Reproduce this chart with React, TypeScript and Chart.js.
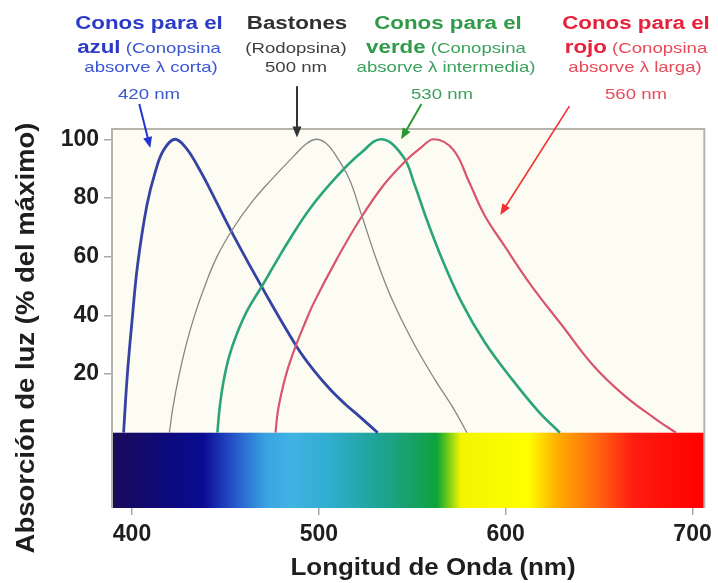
import { useEffect, useRef } from "react";
import { Chart, registerables } from "chart.js";

Chart.register(...registerables);

// ---- data (nm, % of maximum) ----
const blueNm = [395.5, 397.5, 400, 403, 408, 412.5, 417, 423, 429, 435, 441.5, 454, 470.5, 488, 497, 506, 514, 522, 531.5];
const blueAbs = [0, 19.7, 37.9, 57.2, 77.6, 89, 96.4, 100, 97, 91, 83.3, 67.6, 48.5, 29.5, 21.5, 14.8, 9.8, 5.4, 0];

const grayNm = [420, 422, 425, 429, 433.5, 439, 445.5, 454, 464, 475, 487, 493, 498.5, 503.5, 508, 516.1, 522.3, 530.6, 538.9, 549.3, 561.7, 572, 579.3];
const grayAbs = [0, 9, 19, 30, 40, 50, 60, 69.5, 78.5, 86.5, 94.5, 98.3, 100, 98.8, 95.5, 86.7, 75.3, 59.4, 45.8, 32.2, 18.5, 8.3, 0];

const greenNm = [445.7, 447, 449, 452, 456, 462, 469.6, 476, 483, 495.4, 509.9, 522.3, 533.7, 545.1, 551.3, 557.5, 565.8, 576.2, 588.6, 603, 617.6, 629];
const greenAbs = [0, 9, 17.5, 26, 33.5, 42, 50, 57, 64.5, 76.5, 87.5, 95.2, 100, 94.1, 84.4, 73.1, 59.4, 44.7, 31, 18.5, 7.2, 0];

const redNm = [476.8, 478, 480, 483, 487, 492, 497.5, 509.9, 522.3, 534.8, 546.2, 554, 561.7, 572, 580.3, 588.6, 599, 613.4, 630, 646.6, 663.1, 679.7, 691.1];
const redAbs = [0, 7, 13.5, 21, 28.5, 36.5, 44.5, 59.5, 73, 84.5, 92.5, 96.8, 100, 96.4, 85.6, 74.2, 64, 50.4, 36.7, 23.1, 12.9, 4.9, 0];

const xTickValues = [400, 500, 600, 700];
const yTickValues = [20, 40, 60, 80, 100];

const spectrumNm = [389, 420, 438, 448, 460, 472, 485, 505, 530, 552, 563, 568, 576, 612, 628, 648, 668, 706];
const spectrumColors = [
  "#1c0b5a", "#0c0a7e", "#0a0c92", "#1c36b8", "#2c6ed4", "#3aa4e2", "#40b2e4", "#30aed0", "#1fa49a",
  "#17a062", "#0ca33a", "#5cc41e", "#f4f400", "#ffff00", "#ffac00", "#ff6a10", "#ff1c10", "#ff0000",
];

// arrows: [fromNm, fromPct, toNm, toPct]
const arrowBlue = [403.9, 112, 409.8, 97];
const arrowGray = [488.3, 118.1, 488.3, 100.6];
const arrowGreen = [554.9, 112, 544, 100];
const arrowRed = [634.1, 111.3, 597.1, 74.2];

const FAM = '"Liberation Sans", Arial, sans-serif';

type Part = { t: string; bold?: boolean; size: number; color: string };

function drawLine(ctx: CanvasRenderingContext2D, parts: Part[], cx: number, y: number, sx: number) {
  ctx.save();
  let total = 0;
  const widths: number[] = [];
  for (const p of parts) {
    ctx.font = `${p.bold ? "bold " : ""}${p.size}px ${FAM}`;
    const w = ctx.measureText(p.t).width;
    widths.push(w);
    total += w;
  }
  ctx.translate(cx, y);
  ctx.scale(sx, 1);
  let x = -total / 2;
  ctx.textAlign = "left";
  ctx.textBaseline = "alphabetic";
  parts.forEach((p, i) => {
    ctx.font = `${p.bold ? "bold " : ""}${p.size}px ${FAM}`;
    ctx.fillStyle = p.color;
    ctx.fillText(p.t, x, 0);
    x += widths[i];
  });
  ctx.restore();
}

function drawArrow(ctx: CanvasRenderingContext2D, x1: number, y1: number, x2: number, y2: number, color: string, lw: number) {
  const ang = Math.atan2(y2 - y1, x2 - x1);
  const head = 11;
  const hw = 4.5;
  ctx.save();
  ctx.strokeStyle = color;
  ctx.fillStyle = color;
  ctx.lineWidth = lw;
  ctx.beginPath();
  ctx.moveTo(x1, y1);
  ctx.lineTo(x2 - Math.cos(ang) * head * 0.8, y2 - Math.sin(ang) * head * 0.8);
  ctx.stroke();
  ctx.beginPath();
  ctx.moveTo(x2, y2);
  ctx.lineTo(x2 - Math.cos(ang) * head - Math.sin(ang) * hw, y2 - Math.sin(ang) * head + Math.cos(ang) * hw);
  ctx.lineTo(x2 - Math.cos(ang) * head + Math.sin(ang) * hw, y2 - Math.sin(ang) * head - Math.cos(ang) * hw);
  ctx.closePath();
  ctx.fill();
  ctx.restore();
}

const decorPlugin = {
  id: "decor",
  beforeDraw(chart: any) {
    const { ctx, chartArea: a } = chart;
    ctx.save();
    ctx.fillStyle = "#fdfcf3";
    ctx.fillRect(a.left, a.top, a.right - a.left, a.bottom - a.top);
    ctx.restore();
  },
  beforeDatasetsDraw(chart: any) {
    const { ctx, chartArea: a, scales } = chart;
    const x = scales.x;
    const y0 = scales.y.getPixelForValue(0);
    const g = ctx.createLinearGradient(a.left, 0, a.right, 0);
    spectrumNm.forEach((nm, i) => {
      const px = x.getPixelForValue(nm);
      const f = Math.min(1, Math.max(0, (px - a.left) / (a.right - a.left)));
      g.addColorStop(f, spectrumColors[i]);
    });
    ctx.save();
    ctx.fillStyle = g;
    ctx.fillRect(a.left, y0, a.right - a.left, a.bottom - y0);
    ctx.restore();
  },
  afterDatasetsDraw(chart: any) {
    const { ctx, chartArea: a } = chart;
    ctx.save();
    ctx.strokeStyle = "#b4b4ac";
    ctx.lineWidth = 2;
    ctx.beginPath();
    ctx.moveTo(a.left, a.bottom);
    ctx.lineTo(a.left, a.top);
    ctx.lineTo(a.right, a.top);
    ctx.lineTo(a.right, a.bottom);
    ctx.stroke();
    ctx.restore();
  },
  afterDraw(chart: any) {
    const { ctx, scales } = chart;
    const X = (v: number) => scales.x.getPixelForValue(v);
    const Y = (v: number) => scales.y.getPixelForValue(v);
    const arr = (a: number[], c: string, lw: number) => drawArrow(ctx, X(a[0]), Y(a[1]), X(a[2]), Y(a[3]), c, lw);
    arr(arrowBlue, "#2434d0", 2);
    arr(arrowGray, "#333333", 2);
    arr(arrowGreen, "#2a9a30", 2);
    arr(arrowRed, "#f03034", 1.6);

    const sx = 1.24;
    // blue
    const bB = "#2b3bc6", bN = "#3a56d2";
    drawLine(ctx, [{ t: "Conos para el", bold: true, size: 18, color: bB }], 149, 29, sx);
    drawLine(ctx, [{ t: "azul", bold: true, size: 18, color: bB }, { t: " (Conopsina", size: 15, color: bN }], 149, 53, sx);
    drawLine(ctx, [{ t: "absorve \u03bb corta)", size: 15, color: bN }], 151, 72, sx);
    drawLine(ctx, [{ t: "420 nm", size: 15, color: bN }], 149, 99, sx);
    // rods
    const gB = "#303030", gN = "#404040";
    drawLine(ctx, [{ t: "Bastones", bold: true, size: 18, color: gB }], 297, 29, sx);
    drawLine(ctx, [{ t: "(Rodopsina)", size: 15, color: gN }], 296, 53, sx);
    drawLine(ctx, [{ t: "500 nm", size: 15, color: gN }], 296, 72, sx);
    // green
    const vB = "#2f9a48", vN = "#3aa25c";
    drawLine(ctx, [{ t: "Conos para el", bold: true, size: 18, color: vB }], 448, 29, sx);
    drawLine(ctx, [{ t: "verde", bold: true, size: 18, color: vB }, { t: " (Conopsina", size: 15, color: vN }], 446, 53, sx);
    drawLine(ctx, [{ t: "absorve \u03bb intermedia)", size: 15, color: vN }], 446, 72, sx);
    drawLine(ctx, [{ t: "530 nm", size: 15, color: vN }], 442, 99, sx);
    // red
    const rB = "#e8203a", rN = "#e84a5a";
    drawLine(ctx, [{ t: "Conos para el", bold: true, size: 18, color: rB }], 636, 29, sx);
    drawLine(ctx, [{ t: "rojo", bold: true, size: 18, color: rB }, { t: " (Conopsina", size: 15, color: rN }], 636, 53, sx);
    drawLine(ctx, [{ t: "absorve \u03bb larga)", size: 15, color: rN }], 635, 72, sx);
    drawLine(ctx, [{ t: "560 nm", size: 15, color: rN }], 636, 99, sx);

    // axis titles
    drawLine(ctx, [{ t: "Longitud de Onda (nm)", bold: true, size: 24, color: "#1e1e1e" }], 433, 575, 1.08);
    ctx.save();
    ctx.translate(34, 338);
    ctx.rotate(-Math.PI / 2);
    drawLine(ctx, [{ t: "Absorci\u00f3n de luz (% del m\u00e1ximo)", bold: true, size: 25, color: "#1e1e1e" }], 0, 0, 1.1);
    ctx.restore();
  },
};

export default function App() {
  const ref = useRef<HTMLCanvasElement | null>(null);
  useEffect(() => {
    if (!ref.current) return;
    const mk = (xs: number[], ys: number[]) => xs.map((x, i) => ({ x, y: ys[i] }));
    const tickFont = { family: FAM, size: 23, weight: "bold" as const };
    const chart = new Chart(ref.current, {
      type: "line",
      data: {
        datasets: [
          { label: "Bastones", data: mk(grayNm, grayAbs), borderColor: "#868686", borderWidth: 1.3 },
          { label: "Rojo", data: mk(redNm, redAbs), borderColor: "#d8566c", borderWidth: 2.2 },
          { label: "Verde", data: mk(greenNm, greenAbs), borderColor: "#2ca47a", borderWidth: 2.6 },
          { label: "Azul", data: mk(blueNm, blueAbs), borderColor: "#3443a4", borderWidth: 2.8 },
        ].map((d) => ({ ...d, pointRadius: 0, fill: false, tension: 0.4 })),
      },
      options: {
        animation: false,
        responsive: true,
        maintainAspectRatio: false,
        layout: { padding: { top: 129, right: 13, bottom: 0, left: 0 } },
        plugins: { legend: { display: false }, tooltip: { enabled: false } },
        scales: {
          x: {
            type: "linear",
            min: 389.3,
            max: 706.3,
            afterBuildTicks: (s: any) => {
              s.ticks = xTickValues.map((v) => ({ value: v }));
            },
            afterFit: (s: any) => {
              s.height = 75;
            },
            grid: { drawOnChartArea: false, tickLength: 7, color: "#a8a8a8", lineWidth: 1.5 },
            border: { display: false },
            ticks: { font: tickFont, color: "#1e1e1e", padding: 6, maxRotation: 0, autoSkip: false, callback: (v: any) => String(v) },
          },
          y: {
            type: "linear",
            min: -25.66,
            max: 103.5,
            afterBuildTicks: (s: any) => {
              s.ticks = yTickValues.map((v) => ({ value: v }));
            },
            afterFit: (s: any) => {
              s.width = 112;
            },
            grid: { drawOnChartArea: false, tickLength: 8, color: "#a8a8a8", lineWidth: 1.5 },
            border: { display: false },
            ticks: { font: tickFont, color: "#1e1e1e", padding: 5, callback: (v: any) => String(v) },
          },
        },
      },
      plugins: [decorPlugin],
    });
    return () => chart.destroy();
  }, []);
  return (
    <div style={{ position: "absolute", left: 0, top: 0, width: 718, height: 583, background: "#fff" }}>
      <canvas ref={ref} />
    </div>
  );
}
